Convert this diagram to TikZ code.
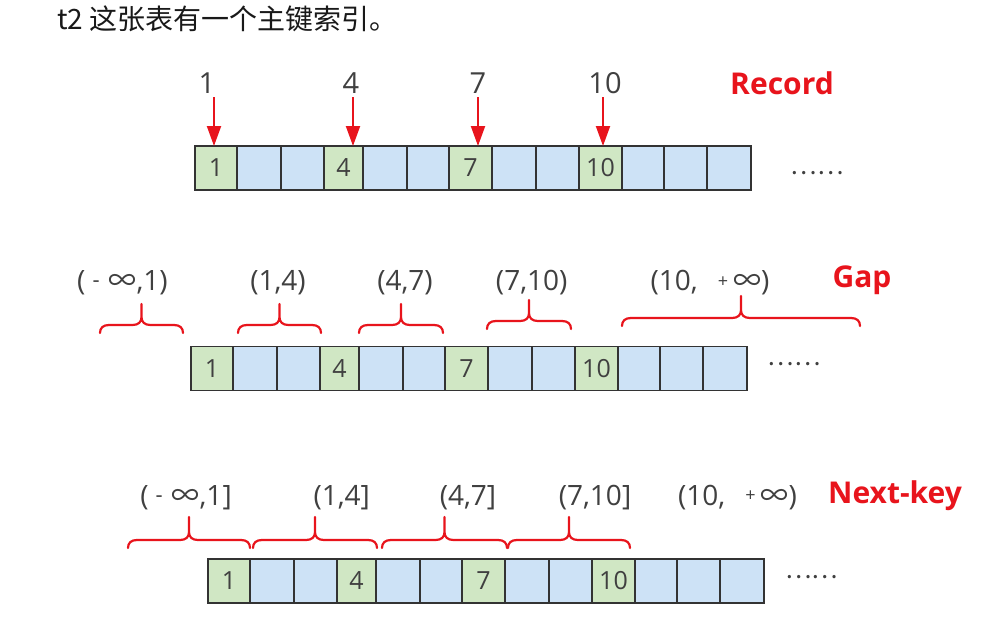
\documentclass[tikz,border=0pt]{standalone}
\usepackage{fontspec}
\setmainfont{Open Sans}
\newfontfamily\cjk{Noto Sans CJK SC}
\usetikzlibrary{arrows.meta}
\definecolor{cellg}{RGB}{208,231,196}
\definecolor{cellb}{RGB}{205,226,246}
\definecolor{cellline}{RGB}{51,51,51}
\definecolor{redc}{RGB}{232,20,28}
\definecolor{txt}{RGB}{64,64,64}
\newcommand\sminus{\raisebox{3pt}{\fontsize{22pt}{22pt}\selectfont -}}
\newcommand\splus{\raisebox{3.5pt}{\fontsize{18pt}{18pt}\selectfont +}}
\newcommand\infsym{{\cjk ∞}}
\newcommand\rowcells[3]{%
  \foreach \a/\b/\t/\c [count=\i] in {0/42/1/cellg,42/86//cellb,86/129//cellb,129/168/4/cellg,168/212//cellb,212/254//cellb,254/297/7/cellg,297/341//cellb,341/384//cellb,384/427/10/cellg,427/469//cellb,469/512//cellb,512/556//cellb}{
    \node[cell,fill=\c,minimum width={(\b-\a)*1pt},anchor=north west] (#1c\i) at (#2+\a,#3) {\t};
  }%
}
% #1 name, #2 x left, #3 x right, #4 y of the ends, #5 height of the tip above the ends
\newcommand\redbrace[5]{%
  \coordinate (#1a) at (#2,#4);
  \coordinate (#1b) at (#3,#4);
  \pgfmathsetmacro\bxc{(#2+#3)/2}%
  \draw[brc] (#1a) .. controls (#2,#4-5) and (#2+3,#4-8) .. (#2+9,#4-8)
    -- (\bxc-9,#4-8) .. controls (\bxc-3,#4-8) and (\bxc,#4-11) .. (\bxc,#4-16)
    -- (\bxc,#4-#5) -- (\bxc,#4-16)
    .. controls (\bxc,#4-11) and (\bxc+3,#4-8) .. (\bxc+9,#4-8)
    -- (#3-9,#4-8) .. controls (#3-3,#4-8) and (#3,#4-5) .. (#1b);
}
\begin{document}
\begin{tikzpicture}[x=1pt,y=-1pt,
  cell/.style={draw=cellline,line width=1.8pt,minimum height=44pt,inner sep=0pt,outer sep=0pt,
    font=\fontsize{25pt}{25pt}\selectfont,text=txt},
  toplab/.style={font=\fontsize{29pt}{29pt}\selectfont,text=txt,inner sep=0pt},
  rangelab/.style={font=\fontsize{28pt}{28pt}\selectfont,text=txt,inner sep=0pt,anchor=base},
  redlab/.style={font=\fontsize{30pt}{30pt}\selectfont\bfseries,text=redc,inner sep=0pt,anchor=base},
  dotslab/.style={font=\cjk\fontsize{25pt}{25pt}\selectfont,text=txt,inner sep=0pt},
  arr/.style={draw=redc,line width=2pt,-{Triangle[width=14pt,length=20pt]}},
  brc/.style={draw=redc,line width=2.2pt,line join=round,line cap=round}]
\useasboundingbox (0,0) rectangle (999,618);
\fill[white] (0,0) rectangle (999,618);

% title
\node[anchor=base west,inner sep=0pt,font=\cjk\fontsize{28pt}{28pt}\selectfont,text=black!90] (title) at (57,30) {t2 这张表有一个主键索引。};

% ---------- Record ----------
\rowcells{ra}{195}{146}
\node[dotslab] (dotsa) at (817,173) {……};
\node[redlab] (rec) at (782,95) {Record};
\node[toplab,anchor=base] (la1) at (207,93) {1};
\node[toplab,anchor=base] (la4) at (351,93) {4};
\node[toplab,anchor=base] (la7) at (478,93) {7};
\node[toplab,anchor=base] (la10) at (605,93) {10};
\coordinate (sa1) at (214,97);
\coordinate (sa4) at (353,97);
\coordinate (sa7) at (478,97);
\coordinate (sa10) at (603,97);
\draw[arr] (sa1) -- (sa1 |- rac1.north);
\draw[arr] (sa4) -- (sa4 |- rac4.north);
\draw[arr] (sa7) -- (sa7 |- rac7.north);
\draw[arr] (sa10) -- (sa10 |- rac10.north);

% ---------- Gap ----------
\rowcells{rb}{191}{346.5}
\node[dotslab] (dotsb) at (794,364) {……};
\node[redlab] (gap) at (862,287) {Gap};
\node[rangelab] (gb1) at (122.5,290.5) {(\hspace{7pt}\sminus\hspace{9pt}\infsym,1)};
\node[rangelab] (gb2) at (278,290.5) {(1,4)};
\node[rangelab] (gb3) at (405,290.5) {(4,7)};
\node[rangelab] (gb4) at (531.7,290.5) {(7,10)};
\node[rangelab] (gb5) at (710,290.5) {(10,\hspace{20pt}\splus\hspace{5pt}\infsym)};
\redbrace{g1}{100}{183}{333}{29}
\redbrace{g2}{238}{321}{333}{29}
\redbrace{g3}{359}{443}{333}{29}
\redbrace{g4}{487}{571}{329}{29}
\redbrace{g5}{622}{860}{326}{30}

% ---------- Next-key ----------
\rowcells{rc}{208}{559}
\node[dotslab] (dotsc) at (811.5,577) {……};
\node[redlab] (nk) at (895,503) {Next-key};
\node[rangelab] (nc1) at (186,505) {(\hspace{7pt}\sminus\hspace{9pt}\infsym,1]};
\node[rangelab] (nc2) at (341.7,505) {(1,4]};
\node[rangelab] (nc3) at (468,505) {(4,7]};
\node[rangelab] (nc4) at (595,505) {(7,10]};
\node[rangelab] (nc5) at (737.5,505) {(10,\hspace{20pt}\splus\hspace{5pt}\infsym)};
\redbrace{n1}{128}{250}{548}{31}
\redbrace{n2}{253}{377}{548}{31}
\redbrace{n3}{382}{507}{548}{31}
\redbrace{n4}{508}{630}{548}{31}
\end{tikzpicture}
\end{document}
